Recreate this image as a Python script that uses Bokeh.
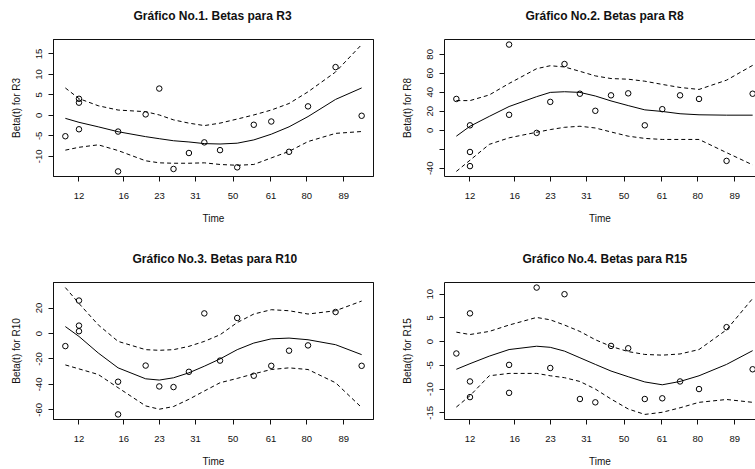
import math
from bokeh.plotting import figure
from bokeh.models import FixedTicker, LinearAxis, Range1d
from bokeh.layouts import gridplot
from bokeh.embed import file_html
from bokeh.resources import INLINE

FONT = "Liberation Sans"

# transformed time (x) of the event points and of the smooth curves
T_PTS = [0.000, 0.046, 0.046, 0.046, 0.178, 0.178, 0.271, 0.317, 0.365, 0.417,
         0.469, 0.522, 0.580, 0.636, 0.695, 0.755, 0.819, 0.912, 1.000]
T_CURVE = [0.000, 0.046, 0.111, 0.178, 0.271, 0.317, 0.365, 0.417, 0.469, 0.522,
           0.580, 0.636, 0.695, 0.755, 0.819, 0.912, 1.000]

# x tick positions and their time labels
X_TICKS = [0.046, 0.197, 0.318, 0.439, 0.566, 0.694, 0.815, 0.940]
X_LABELS = ["12", "16", "23", "31", "50", "61", "80", "89"]

# Panel 1: R3
R3_PTS = [-5.1, 4.05, 3.1, -3.4, -3.96, -13.7, 0.24, 6.55, -13.1, -9.2,
          -6.6, -8.5, -12.7, -2.3, -1.5, -8.9, 2.2, 11.8, -0.1]
R3_FIT = [-0.73, -1.7, -2.8, -4.0, -5.2, -5.7, -6.2, -6.5, -6.9, -7.0,
          -6.8, -6.0, -4.6, -2.8, -0.3, 3.9, 6.7]
R3_UP = [6.7, 4.1, 2.35, 1.3, 0.9, 0.1, -1.1, -1.9, -2.5, -1.9,
         -0.9, 0.1, 1.3, 2.9, 5.75, 10.6, 17.3]
R3_LO = [-8.5, -7.8, -7.2, -8.6, -11.1, -11.6, -11.7, -11.7, -11.6, -12.0,
         -12.2, -12.0, -10.4, -8.8, -6.4, -4.4, -3.95]
R3_YTICKS = [-10, -5, 0, 5, 10, 15]

# Panel 2: R8
R8_PTS = [33.0, 5.2, -22.9, -37.8, 90.3, 16.3, -2.8, 29.9, 69.8, 38.5,
          20.5, 36.8, 38.9, 5.2, 22.2, 36.8, 33.0, -32.3, 38.5]
R8_FIT = [-6.25, 4.2, 14.6, 25.0, 35.4, 39.9, 40.6, 39.9, 36.1, 30.9,
          26.0, 21.5, 19.8, 17.4, 16.3, 15.9, 15.9]
R8_UP = [31.25, 31.25, 37.2, 49.3, 64.9, 68.0, 66.7, 62.1, 57.3, 54.5,
         53.8, 51.7, 48.3, 45.1, 43.0, 52.8, 68.4]
R8_LO = [-43.4, -31.6, -14.9, -8.0, -2.1, 0.7, 3.1, 4.2, 2.4, -1.8,
         -6.25, -8.6, -9.7, -9.7, -9.7, -23.6, -36.5]
R8_YTICKS = [-40, -20, 0, 20, 40, 60, 80]

# Panel 3: R10
R10_PTS = [-9.9, 25.9, 6.2, 1.8, -37.9, -63.6, -25.2, -41.6, -42.1, -30.1,
           15.8, -21.3, 12.2, -33.2, -25.4, -13.5, -9.35, 16.9, -25.4]
R10_FIT = [5.45, -2.3, -15.3, -27.0, -35.6, -36.6, -34.8, -30.9, -25.7, -20.0,
           -12.7, -7.5, -4.2, -3.6, -4.9, -8.8, -16.6]
R10_UP = [36.1, 23.6, 6.8, -6.2, -12.7, -13.2, -12.7, -10.1, -6.2, -1.0,
          8.6, 15.3, 18.7, 17.9, 15.3, 17.9, 25.5]
R10_LO = [-24.7, -27.8, -32.2, -42.6, -56.9, -59.5, -57.4, -51.7, -45.2, -38.7,
          -35.3, -31.7, -28.3, -27.0, -28.3, -38.7, -58.2]
R10_YTICKS = [-60, -40, -20, 0, 20]

# Panel 4: R15
R15_PTS = [-2.5, 5.96, -8.4, -11.7, -4.9, -10.8, 11.4, -5.56, 10.0, -12.1,
           -12.8, -0.9, -1.4, -12.1, -11.95, -8.4, -10.0, 3.05, -5.83]
R15_FIT = [-5.83, -4.65, -3.06, -1.67, -0.97, -1.2, -2.0, -3.4, -4.8, -6.2,
           -7.4, -8.5, -9.1, -8.4, -7.2, -4.8, -1.9]
R15_UP = [2.0, 1.5, 2.15, 3.5, 5.1, 4.6, 3.5, 2.15, 0.4, -1.0,
          -2.1, -2.7, -2.85, -2.6, -1.67, 2.5, 9.1]
R15_LO = [-13.8, -11.4, -7.2, -6.7, -6.7, -7.2, -7.6, -8.4, -10.0, -12.1,
          -14.2, -15.35, -14.9, -13.95, -12.8, -12.2, -12.8]
R15_YTICKS = [-15, -10, -5, 0, 5, 10]

INK = "#111111"
FRAME_W = 320


def style_axis(ax, ticks, labels=None, size="9.5px"):
    ax.ticker = FixedTicker(ticks=ticks)
    if labels is not None:
        ax.major_label_overrides = labels
    ax.minor_tick_line_color = None
    ax.major_tick_in = 0
    ax.major_tick_out = 5
    ax.major_tick_line_color = INK
    ax.axis_line_color = INK
    ax.major_label_text_font = FONT
    ax.major_label_text_font_size = size
    ax.major_label_text_color = INK
    ax.axis_label_text_font = FONT
    ax.axis_label_text_font_size = "10px"
    ax.axis_label_text_font_style = "normal"
    ax.axis_label_text_color = INK


def panel(title, ylabel, pts, fit, up, lo, yticks, left_col, top_row, title_shift, hide=None):
    allv = pts + fit + up + lo
    ymin, ymax = min(allv), max(allv)
    pad = 0.04 * (ymax - ymin)
    xs, xe = min(T_PTS), max(T_PTS)
    xpad = 0.04 * (xe - xs)
    x0 = xs - xpad
    if left_col:
        x1 = xe + xpad
        w, bl, br = 386, 53, 13
    else:
        # plot region is cut by the right edge of the picture
        x1 = x0 + (xe - xs + 2 * xpad) * 311 / FRAME_W
        w, bl, br = 369, 58, 0
    if top_row:
        h, bt, bb = 235, 39, 59
    else:
        h, bt, bb = 234, 47, 50

    p = figure(width=w, height=h, output_backend="svg", toolbar_location=None,
               x_range=Range1d(x0, x1), y_range=Range1d(ymin - pad, ymax + pad),
               min_border_left=bl, min_border_right=br,
               min_border_top=bt, min_border_bottom=bb,
               x_axis_label="Time", y_axis_label=ylabel)
    p.title.text = title
    p.title.align = "left"
    p.title.offset = title_shift
    p.title.text_font = FONT
    p.title.text_font_size = "12px"
    p.title.text_font_style = "bold"
    p.title.text_color = INK
    p.title.standoff = 0
    p.xgrid.visible = False
    p.ygrid.visible = False
    p.background_fill_color = "white"
    p.border_fill_color = "white"
    p.outline_line_color = INK if left_col else None

    style_axis(p.xaxis[0], X_TICKS, dict(zip(X_TICKS, X_LABELS)))
    p.xaxis[0].major_label_standoff = 11
    p.xaxis[0].axis_label_standoff = 11
    ylab = {v: ("" if (hide is not None and v in hide) else str(v)) for v in yticks}
    style_axis(p.yaxis[0], yticks, ylab)
    p.yaxis[0].major_label_orientation = "vertical"
    p.yaxis[0].major_label_standoff = 6
    p.yaxis[0].axis_label_standoff = 12

    # top edge of the box; its blank label keeps the title clear of the plot region
    top = LinearAxis(ticker=FixedTicker(ticks=[]), axis_line_color=INK,
                     major_tick_out=0, major_tick_in=0, major_label_standoff=0,
                     major_label_text_font_size="0px",
                     axis_label="\u00a0", axis_label_standoff=12,
                     axis_label_text_font_size="2px",
                     minor_tick_line_color=None, major_tick_line_color=None)
    p.add_layout(top, "above")

    p.line(T_CURVE, fit, line_color="black", line_width=1)
    p.line(T_CURVE, up, line_color="black", line_width=1, line_dash="4 3")
    p.line(T_CURVE, lo, line_color="black", line_width=1, line_dash="4 3")
    p.scatter(T_PTS, pts, marker="circle", size=5.5, fill_color=None,
              line_color="black", line_width=1)
    return p


p1 = panel("Gráfico No.1. Betas para R3", "Beta(t) for R3", R3_PTS, R3_FIT, R3_UP, R3_LO,
           R3_YTICKS, True, True, 80)
p2 = panel("Gráfico No.2. Betas para R8", "Beta(t) for R8", R8_PTS, R8_FIT, R8_UP, R8_LO,
           R8_YTICKS, False, True, 81, hide=[-20])
p3 = panel("Gráfico No.3. Betas para R10", "Beta(t) for R10", R10_PTS, R10_FIT, R10_UP, R10_LO,
           R10_YTICKS, True, False, 79)
p4 = panel("Gráfico No.4. Betas para R15", "Beta(t) for R15", R15_PTS, R15_FIT, R15_UP, R15_LO,
           R15_YTICKS, False, False, 78)

grid = gridplot([[p1, p2], [p3, p4]], toolbar_location=None)

open("out.html", "w").write(file_html(grid, INLINE))
